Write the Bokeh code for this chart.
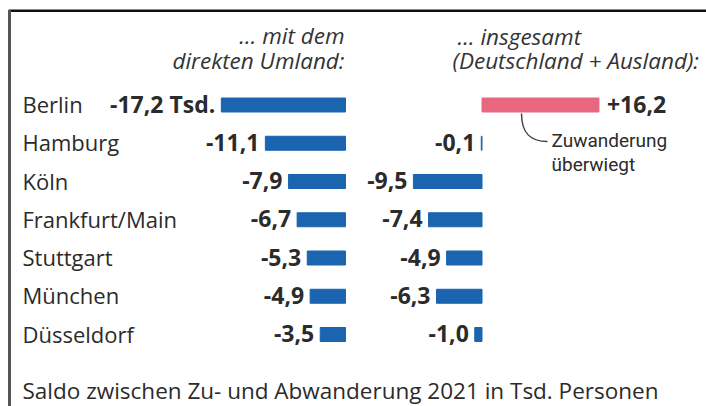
from bokeh.plotting import figure
from bokeh.models import Range1d, ColumnDataSource
from bokeh.core.properties import value
from bokeh.embed import file_html
from bokeh.resources import INLINE

# ---------------- data ----------------
cities = ["Berlin", "Hamburg", "Köln", "Frankfurt/Main", "Stuttgart", "München", "Düsseldorf"]
umland = [-17.2, -11.1, -7.9, -6.7, -5.3, -4.9, -3.5]
insgesamt = [16.2, -0.1, -9.5, -7.4, -4.9, -6.3, -1.0]
header_left = ["… mit dem", "direkten Umland:"]
header_right = ["… insgesamt", "(Deutschland + Ausland):"]
note = ["Zuwanderung", "überwiegt"]
footnote = "Saldo zwischen Zu- und Abwanderung 2021 in Tsd. Personen"

# ---------------- layout ----------------
W, H = 706, 406
S = 7.22            # px per 1 Tsd.
ZL, ZR = 345, 481.5  # zero lines (px)
ROW, TOP = 38.25, 104.5
BLUE, PINK, TXT = "#1a64b0", "#e8677f", "#2b2b2b"
FONT = value("Open Sans")
SHIFT = -10  # correction so that given pixel = visual baseline


def yp(px):  # pixel from top -> y data
    return (px - TOP) / ROW


def yt(px):  # text baseline pixel -> y data
    return yp(px + SHIFT)


def xl(px):  # pixel from left -> left-panel x data
    return (px - ZL) / S


def xr(px):  # pixel from left -> right-panel x data
    return (px - ZR) / S


p = figure(width=W, height=H, output_backend="svg", toolbar_location=None,
           x_range=Range1d(xl(0), xl(W)), y_range=Range1d(yp(H), yp(0)),
           min_border=0, outline_line_color=None, background_fill_color="white",
           border_fill_color="white")
p.extra_x_ranges = {"tot": Range1d(xr(0), xr(W))}
p.xaxis.visible = False
p.yaxis.visible = False
p.grid.visible = False


def fmt(v):
    s = f"{v:.1f}".replace(".", ",")
    return ("+" + s) if v > 0 else s


idx = list(range(len(cities)))
base = [y + (9.0 + SHIFT) / ROW for y in idx]  # text baselines

# frame (top and left rules)
p.quad(left=[xl(9)], right=[xl(W + 5)], top=[yp(9.5)], bottom=[yp(11)], color="#111111")
p.quad(left=[xl(8)], right=[xl(10)], top=[yp(9.5)], bottom=[yp(H + 5)], color="#555555")

# left panel bars
src_l = ColumnDataSource(dict(y=idx, v=umland, zero=[0] * len(idx), b=base,
                              lab=[fmt(v) + (" Tsd." if i == 0 else "") for i, v in enumerate(umland)]))
p.hbar(y="y", left="v", right="zero", height=14 / ROW, source=src_l,
       fill_color=BLUE, line_color=BLUE, line_width=1)
p.text(x="v", y="b", text="lab", source=src_l, text_align="right", text_baseline="alphabetic",
       x_offset=-6, text_font=FONT, text_font_style="bold", text_font_size="23px", text_color=TXT)

# right panel bars
cols = [PINK if v > 0 else BLUE for v in insgesamt]
src_r = ColumnDataSource(dict(y=idx, v=insgesamt, zero=[0] * len(idx), c=cols, b=base,
                              lab=[fmt(v) for v in insgesamt]))
p.hbar(y="y", left="v", right="zero", height=14 / ROW, source=src_r, x_range_name="tot",
       fill_color="c", line_color="c", line_width=1)
neg = ColumnDataSource(dict(x=[v for v in insgesamt if v < 0], b=[b for v, b in zip(insgesamt, base) if v < 0],
                            lab=[fmt(v) for v in insgesamt if v < 0]))
pos = ColumnDataSource(dict(x=[v for v in insgesamt if v > 0], b=[b for v, b in zip(insgesamt, base) if v > 0],
                            lab=[fmt(v) for v in insgesamt if v > 0]))
p.text(x="x", y="b", text="lab", source=neg, x_range_name="tot", text_align="right",
       text_baseline="alphabetic", x_offset=-6, text_font=FONT, text_font_style="bold",
       text_font_size="23px", text_color=TXT)
p.text(x="x", y="b", text="lab", source=pos, x_range_name="tot", text_align="left",
       text_baseline="alphabetic", x_offset=8, text_font=FONT, text_font_style="bold",
       text_font_size="23px", text_color=TXT)

# city names
p.text(x=[xl(22)] * len(idx), y=base, text=cities, text_align="left", text_baseline="alphabetic",
       text_font=FONT, text_font_size="22px", text_color=TXT)

# headers
p.text(x=[xl(344)] * 2, y=[yt(45), yt(70)], text=header_left, text_align="right",
       text_baseline="alphabetic", text_font=FONT, text_font_style="italic",
       text_font_size="22.5px", text_color="#333333")
p.text(x=[xl(457), xl(452)], y=[yt(46), yt(70)], text=header_right, text_align="left",
       text_baseline="alphabetic", text_font=FONT, text_font_style="italic",
       text_font_size="22.5px", text_color="#333333")

# annotation
p.bezier(x0=[xr(521)], y0=[yp(113)], x1=[xr(547)], y1=[yp(141)],
         cx0=[xr(521)], cy0=[yp(133)], cx1=[xr(530)], cy1=[yp(141)],
         x_range_name="tot", line_color="#444444", line_width=1.5)
p.text(x=[xr(551)] * 2, y=[yt(150), yt(174)], text=note, x_range_name="tot", text_align="left",
       text_baseline="alphabetic", text_font=value("Roboto"),
       text_font_size="19px", text_color=TXT)

# footnote
p.text(x=[xl(22)], y=[yt(400)], text=[footnote], text_align="left", text_baseline="alphabetic",
       text_font=FONT, text_font_size="22.5px", text_color=TXT)

open("out.html", "w").write(file_html(p, INLINE))
